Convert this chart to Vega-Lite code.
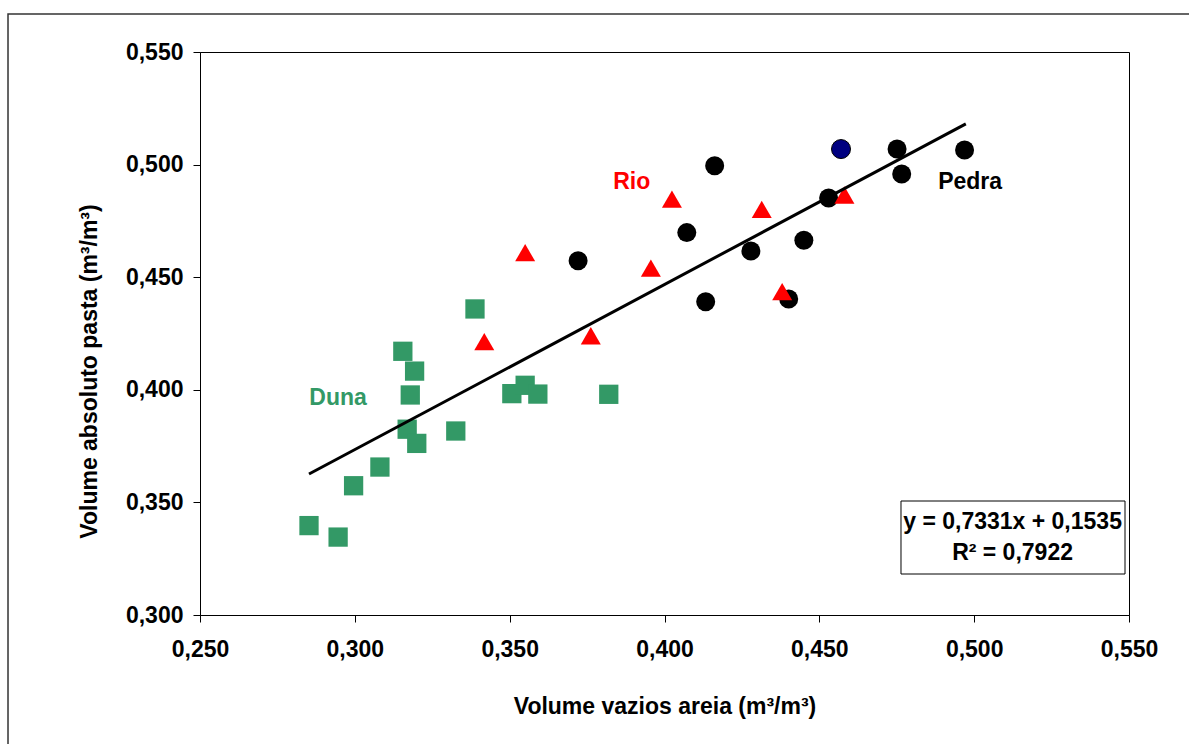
{
  "$schema": "https://vega.github.io/schema/vega-lite/v6.json",
  "width": 929,
  "height": 563,
  "autosize": {"type": "none"},
  "padding": {"left": 200, "top": 52, "right": 60, "bottom": 129},
  "background": "white",
  "config": {
    "view": {"stroke": "#000", "strokeWidth": 1},
    "font": "Liberation Sans"
  },
  "datasets": {
    "frame": [{"x": 0.1880, "x2": 0.65, "y": 0.56687, "y2": 0.2}],
    "box": [{"x": 0.47637, "x2": 0.54871, "y": 0.35062, "y2": 0.31820}],
    "pedra": [
      {"x": 0.3721, "y": 0.4573},
      {"x": 0.4072, "y": 0.4698},
      {"x": 0.4133, "y": 0.4391},
      {"x": 0.4162, "y": 0.4995},
      {"x": 0.4279, "y": 0.4616},
      {"x": 0.4401, "y": 0.4403},
      {"x": 0.4450, "y": 0.4664},
      {"x": 0.4530, "y": 0.4852},
      {"x": 0.4751, "y": 0.5069},
      {"x": 0.4766, "y": 0.4958},
      {"x": 0.4969, "y": 0.5065}
    ],
    "blue": [{"x": 0.4570, "y": 0.5069}],
    "rio": [
      {"x": 0.3418, "y": 0.4214},
      {"x": 0.3550, "y": 0.4609},
      {"x": 0.3762, "y": 0.4240},
      {"x": 0.3956, "y": 0.4540},
      {"x": 0.4024, "y": 0.4847},
      {"x": 0.4314, "y": 0.4801},
      {"x": 0.4380, "y": 0.4436},
      {"x": 0.4581, "y": 0.4865}
    ],
    "duna": [
      {"x": 0.2852, "y": 0.3397},
      {"x": 0.2946, "y": 0.3346},
      {"x": 0.2996, "y": 0.3574},
      {"x": 0.3081, "y": 0.3657},
      {"x": 0.3169, "y": 0.3825},
      {"x": 0.3200, "y": 0.3762},
      {"x": 0.3179, "y": 0.3977},
      {"x": 0.3193, "y": 0.4083},
      {"x": 0.3155, "y": 0.4171},
      {"x": 0.3388, "y": 0.4359},
      {"x": 0.3326, "y": 0.3817},
      {"x": 0.3507, "y": 0.3983},
      {"x": 0.3550, "y": 0.4020},
      {"x": 0.3591, "y": 0.3981},
      {"x": 0.3820, "y": 0.3980}
    ],
    "trend": [
      {"x": 0.2852, "y": 0.3626},
      {"x": 0.4973, "y": 0.5181}
    ],
    "labels": [
      {"x": 0.2946, "y": 0.3964, "text": "Duna", "series": "Duna"},
      {"x": 0.3894, "y": 0.4921, "text": "Rio", "series": "Rio"},
      {"x": 0.4987, "y": 0.4921, "text": "Pedra", "series": "Pedra"}
    ],
    "eq": [
      {"x": 0.5124, "y": 0.3414, "text": "y = 0,7331x + 0,1535"},
      {"x": 0.5124, "y": 0.3275, "text": "R² = 0,7922"}
    ]
  },
  "encoding": {
    "x": {
      "field": "x",
      "type": "quantitative",
      "scale": {"domain": [0.25, 0.55], "nice": false, "zero": false},
      "axis": {
        "title": "Volume vazios areia (m³/m³)",
        "values": [0.25, 0.3, 0.35, 0.4, 0.45, 0.5, 0.55],
        "labelExpr": "replace(format(datum.value, '.3f'), '.', ',')",
        "grid": false,
        "domainColor": "#000",
        "tickColor": "#000",
        "tickSize": 7,
        "labelFont": "Liberation Sans",
        "labelFontSize": 23,
        "labelFontWeight": "bold",
        "labelColor": "#000",
        "labelPadding": 16,
        "labelFlush": false,
        "titleFont": "Liberation Sans",
        "titleFontSize": 23,
        "titleFontWeight": "bold",
        "titleColor": "#000",
        "titlePadding": 34
      }
    },
    "y": {
      "field": "y",
      "type": "quantitative",
      "scale": {"domain": [0.3, 0.55], "nice": false, "zero": false},
      "axis": {
        "title": "Volume absoluto pasta (m³/m³)",
        "values": [0.3, 0.35, 0.4, 0.45, 0.5, 0.55],
        "labelExpr": "replace(format(datum.value, '.3f'), '.', ',')",
        "grid": false,
        "domainColor": "#000",
        "tickColor": "#000",
        "tickSize": 7,
        "labelFont": "Liberation Sans",
        "labelFontSize": 23,
        "labelFontWeight": "bold",
        "labelColor": "#000",
        "labelPadding": 10,
        "labelFlush": false,
        "titleFont": "Liberation Sans",
        "titleFontSize": 23,
        "titleFontWeight": "bold",
        "titleColor": "#000",
        "titlePadding": 24,
        "titleY": 319
      }
    }
  },
  "layer": [
    {
      "data": {"name": "frame"},
      "mark": {"type": "rect", "fill": null, "fillOpacity": 0, "stroke": "#333", "strokeWidth": 1.5, "clip": false},
      "encoding": {"x2": {"field": "x2"}, "y2": {"field": "y2"}}
    },
    {
      "data": {"name": "box"},
      "mark": {"type": "rect", "fill": "white", "stroke": "#000", "strokeWidth": 1},
      "encoding": {"x2": {"field": "x2"}, "y2": {"field": "y2"}}
    },
    {
      "data": {"name": "pedra"},
      "mark": {"type": "point", "shape": "circle", "filled": true, "color": "#000", "size": 361, "opacity": 1}
    },
    {
      "data": {"name": "blue"},
      "mark": {"type": "point", "shape": "circle", "filled": true, "fill": "#000080", "stroke": "#000", "strokeWidth": 1, "size": 361, "opacity": 1}
    },
    {
      "data": {"name": "rio"},
      "mark": {"type": "point", "shape": "triangle-up", "filled": true, "color": "#FF0000", "size": 400, "opacity": 1}
    },
    {
      "data": {"name": "duna"},
      "mark": {"type": "point", "shape": "square", "filled": true, "color": "#339966", "size": 372, "opacity": 1}
    },
    {
      "data": {"name": "trend"},
      "mark": {"type": "line", "color": "#000", "strokeWidth": 3},
      "encoding": {}
    },
    {
      "data": {"name": "labels"},
      "mark": {"type": "text", "font": "Liberation Sans", "fontSize": 23, "fontWeight": "bold", "align": "center", "baseline": "middle"},
      "encoding": {
        "text": {"field": "text"},
        "color": {
          "field": "series",
          "type": "nominal",
          "scale": {"domain": ["Duna", "Rio", "Pedra"], "range": ["#339966", "#FF0000", "#000000"]},
          "legend": null
        }
      }
    },
    {
      "data": {"name": "eq"},
      "mark": {"type": "text", "font": "Liberation Sans", "fontSize": 23, "fontWeight": "bold", "align": "center", "baseline": "middle", "color": "#000"},
      "encoding": {"text": {"field": "text"}}
    }
  ]
}
